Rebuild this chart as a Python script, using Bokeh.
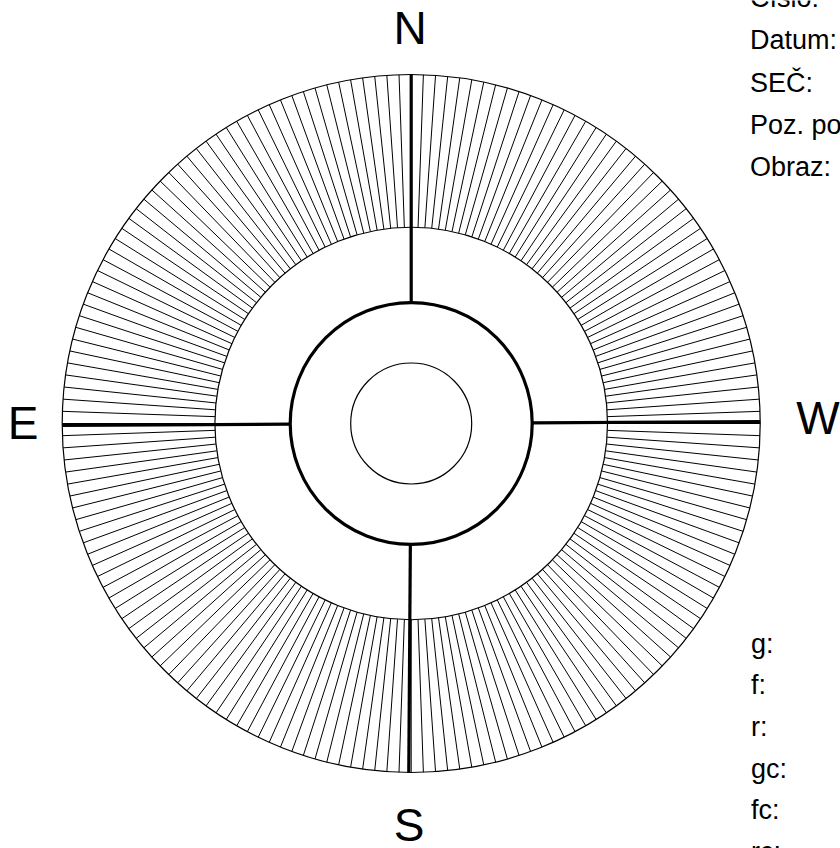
import numpy as np
from bokeh.plotting import figure
from bokeh.models import Range1d, ColumnDataSource
from bokeh.core.properties import value
from bokeh.embed import file_html
from bokeh.resources import INLINE

# ---- data (template structure) ----
compass_labels = ["N", "W", "S", "E"]
compass_arm_angles = [90.0, 0.33, 269.6, 180.33]      # degrees
tick_step_deg = 2
tick_angles = list(range(0, 360, tick_step_deg))       # 180 scale ticks
circle_radii = [60.5, 121.0, 196.3, 349.0]             # inner, bold, ring inner, ring outer
header_labels = ["Číslo:", "Datum:", "SEČ:", "Poz. podmínky:", "Obraz:"]
footer_labels = ["g:", "f:", "r:", "gc:", "fc:", "rc:"]

# ---- layout (screen px) ----
CX, CY = 410.7, 423.0
W, H = 840, 848

def sx(x):
    return x - CX

def sy(y):
    return CY - y

p = figure(width=W, height=H, output_backend="svg", toolbar_location=None,
           x_range=Range1d(sx(0), sx(W)), y_range=Range1d(sy(H), sy(0)),
           min_border=0, outline_line_color=None, background_fill_color="white",
           border_fill_color="white")
p.xaxis.visible = False
p.yaxis.visible = False
p.xgrid.visible = False
p.ygrid.visible = False

r_in_ring, r_out_ring = circle_radii[2], circle_radii[3]
ta = np.radians(np.array(tick_angles, dtype=float))
p.segment(x0=r_in_ring * np.cos(ta), y0=r_in_ring * np.sin(ta),
          x1=r_out_ring * np.cos(ta), y1=r_out_ring * np.sin(ta),
          line_color="black", line_width=1)

# ring circles
p.circle(x=[0, 0], y=[0, 0], radius=[r_in_ring, r_out_ring], fill_color=None,
         line_color="black", line_width=1.2)
# inner thin circle
p.circle(x=[0], y=[0], radius=[circle_radii[0]], fill_color=None,
         line_color="black", line_width=1.2)
# bold circle
p.circle(x=[0], y=[0], radius=[circle_radii[1]], fill_color=None,
         line_color="black", line_width=3.2)

# bold arms
aa = np.radians(np.array(compass_arm_angles))
p.segment(x0=circle_radii[1] * np.cos(aa), y0=circle_radii[1] * np.sin(aa),
          x1=r_out_ring * np.cos(aa), y1=r_out_ring * np.sin(aa),
          line_color="black", line_width=3.2)

# compass letters (baseline positions, corrected for renderer offset)
BIG_OFF = 18.0
lab_pos = {"N": (409.5, 45), "W": (817.5, 435), "S": (408.5, 842.5), "E": (22.5, 440)}
src = ColumnDataSource(dict(
    x=[sx(lab_pos[k][0]) for k in compass_labels],
    y=[sy(lab_pos[k][1] - BIG_OFF) for k in compass_labels],
    t=compass_labels))
p.text(x="x", y="y", text="t", source=src, text_align="center",
       text_baseline="alphabetic", text_font=value("Liberation Sans"),
       text_font_size="46px", text_color="black")

# header labels (top right)
SMALL_OFF = 8.5
hx = 749.5
h_base0, h_step = 6.0, 42.3
hsrc = ColumnDataSource(dict(
    x=[sx(hx)] * len(header_labels),
    y=[sy(h_base0 + i * h_step - SMALL_OFF) for i in range(len(header_labels))],
    t=header_labels))
p.text(x="x", y="y", text="t", source=hsrc, text_align="left",
       text_baseline="alphabetic", text_font=value("Liberation Sans"),
       text_font_size="27px", text_color="black")

# footer labels (bottom right)
f_base0, f_step = 651.5, 41.7
fsrc = ColumnDataSource(dict(
    x=[sx(hx + 1)] * len(footer_labels),
    y=[sy(f_base0 + i * f_step - SMALL_OFF) for i in range(len(footer_labels))],
    t=footer_labels))
p.text(x="x", y="y", text="t", source=fsrc, text_align="left",
       text_baseline="alphabetic", text_font=value("Liberation Sans"),
       text_font_size="27px", text_color="black")

html = file_html(p, INLINE)
html = html.replace("<head>", "<head>\n<style>html,body{margin:0;padding:0;overflow:hidden;}</style>", 1)
open("out.html", "w").write(html)
